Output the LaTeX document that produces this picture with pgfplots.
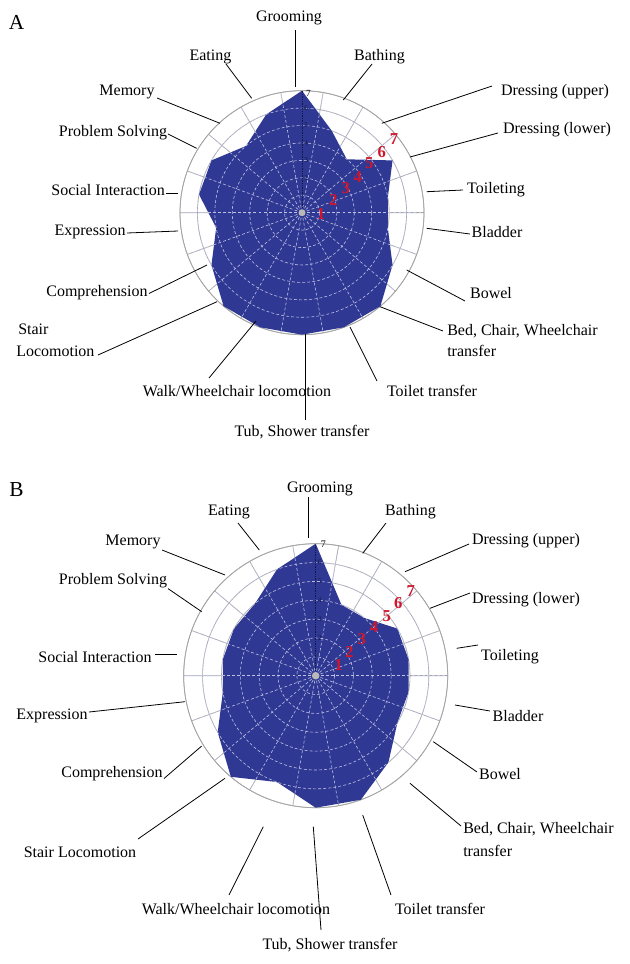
\documentclass[border=0pt]{standalone}
\usepackage{pgfplots}
\usepackage{pgfplotstable}
\pgfplotsset{compat=1.18}
\usepgfplotslibrary{polar}
\usepackage{fontspec}
\setmainfont{Liberation Serif}
\definecolor{fimblue}{RGB}{47,57,148}
\definecolor{fimred}{RGB}{208,22,44}
\definecolor{ringgray}{RGB}{165,165,165}
\definecolor{navyink}{RGB}{18,24,70}
\definecolor{lav}{RGB}{190,192,225}

% FIM item scores, clockwise from Grooming (angle 90)
\pgfplotstableread{
ang val
90 7
70 5
50 4
30 6
10 5
-10 5
-30 6
-50 7
-70 7
-90 7
-110 7
-130 7
-150 6
-170 5
-190 6
-210 6
-230 5
-250 6
-270 7
}\dataA
\pgfplotstableread{
ang val
90 7
70 4
50 4
30 5
10 5
-10 5
-30 5
-50 6
-70 7
-90 7
-110 6
-130 7
-150 6
-170 5
-190 5
-210 5
-230 5
-250 6
-270 7
}\dataB

\pgfplotsset{fimradar/.style={
  anchor=center, scale only axis,
  xmin=0, xmax=360, ymin=0, ymax=7,
  xtick={0,20,...,340}, ytick={1,2,...,7},
  xticklabel=\empty, yticklabel=\empty,
  grid=both,
  major grid style={draw=ringgray, line width=0.5pt},
  axis line style={draw=ringgray, line width=0.6pt},
  tick style={draw=none},
  clip=false,
}}

\tikzset{
  lab/.style={font=\fontsize{12}{14}\selectfont, inner sep=0pt},
  lead/.style={draw=black, line width=0.6pt},
  ovl/.style={draw=lav, line width=0.45pt, dash pattern=on 2.2pt off 1.6pt},
  rednum/.style={text=fimred, font=\fontsize{12.5}{12.5}\selectfont\bfseries, inner sep=0pt},
  sm/.style={text=navyink, font=\fontsize{5.5}{5.5}\selectfont, inner sep=0pt},
}

\begin{document}
\begin{tikzpicture}
% ---------------- Chart A ----------------
\begin{polaraxis}[fimradar, at={(226.5pt,-159.525pt)}, width=183pt, height=183pt,
  xticklabel=\empty, yticklabel=\empty]
\addplot[fill=fimblue, draw=none] table[x=ang, y=val] {\dataA};
\end{polaraxis}
% ---------------- Chart B ----------------
\begin{polaraxis}[fimradar, at={(236.775pt,-506.775pt)}, width=198pt, height=198pt,
  xticklabel=\empty, yticklabel=\empty]
\addplot[fill=fimblue, draw=none] table[x=ang, y=val] {\dataB};
\end{polaraxis}

\begin{scope}[x=0.75pt, y=-0.75pt]
\path[use as bounding box] (0,0) rectangle (629,964);

% overlay grid A
\foreach \k in {1,...,6} \draw[ovl] (302,212.7) circle[radius={\k*17.43}];
\foreach \a in {0,20,...,340} \draw[ovl] (302,212.7) -- ++(\a:121);
\draw[navyink, line width=0.7pt, dash pattern=on 1pt off 0.8pt] (302,212.7) -- (302,91);
\foreach \k in {2,...,6} \node[sm, anchor=west] at (304,{212.7-\k*17.43}) {\k};
\fill[gray!55] (302,212.7) circle[radius=3.5];
\node[font=\fontsize{7}{7}\selectfont, inner sep=0pt] at (308.5,93) {7};

% overlay grid B
\foreach \k in {1,...,6} \draw[ovl] (315.7,675.7) circle[radius={\k*18.857}];
\foreach \a in {0,20,...,340} \draw[ovl] (315.7,675.7) -- ++(\a:131);
\draw[navyink, line width=0.7pt, dash pattern=on 1pt off 0.8pt] (315.7,675.7) -- (315.7,544);
\foreach \k in {2,...,6} \node[sm, anchor=west] at (317.7,{675.7-\k*18.857}) {\k};
\fill[gray!55] (315.7,675.7) circle[radius=3.8];
\node[font=\fontsize{7.5}{7.5}\selectfont, inner sep=0pt] at (323.3,544) {7};

% red scale digits
\foreach \n/\x/\y in {1/321/214,2/333.3/200,3/345.7/188.3,4/357.7/176.7,5/369.3/162.7,6/381.7/151.7,7/394/139}
  \node[rednum] at (\x,\y) {\n};
\foreach \n/\x/\y in {1/338.5/665,2/349.3/651.7,3/361.7/639.3,4/374/626.7,5/386.7/616,6/398.3/602.7,7/410.7/590.7}
  \node[rednum] at (\x,\y) {\n};

% ---------- labels A ----------
\node[font=\fontsize{16}{16}\selectfont, inner sep=0pt] at (16.5,22) {A};
\node[lab] at (289,18) {Grooming};
\node[lab] at (210.5,56.5) {Eating};
\node[lab] at (379.5,56.5) {Bathing};
\node[lab] at (127,92) {Memory};
\node[lab] at (555,92) {Dressing (upper)};
\node[lab] at (113,133) {Problem Solving};
\node[lab] at (557,130) {Dressing (lower)};
\node[lab, anchor=east] at (165,190) {Social Interaction};
\node[lab] at (496,190) {Toileting};
\node[lab, anchor=east] at (126,232) {Expression};
\node[lab] at (497,232) {Bladder};
\node[lab] at (97,293) {Comprehension};
\node[lab] at (491,293) {Bowel};
\node[lab, anchor=west] at (18,329) {Stair};
\node[lab, anchor=west] at (16,351) {Locomotion};
\node[lab, anchor=west] at (447,331) {Bed, Chair, Wheelchair};
\node[lab, anchor=west] at (447,351) {transfer};
\node[lab] at (237,391) {Walk/Wheelchair locomotion};
\node[lab] at (432,391) {Toilet transfer};
\node[lab] at (302,432) {Tub, Shower transfer};

\draw[lead] (295,30) -- (295,87);
\draw[lead] (226,64) -- (251.7,98.3);
\draw[lead] (372,64) -- (343.3,100);
\draw[lead] (157,98) -- (220,123.3);
\draw[lead] (168,134) -- (196.7,148.3);
\draw[lead] (166,193) -- (178,193);
\draw[lead] (127,233) -- (178,231);
\draw[lead] (149,293.5) -- (207,265);
\draw[lead] (98,355) -- (217,301.7);
\draw[lead] (209,378) -- (256,321);
\draw[lead] (305,420) -- (305,334);
\draw[lead] (350,327) -- (377,381);
\draw[lead] (380,306.7) -- (443,331);
\draw[lead] (406.7,270) -- (465,301);
\draw[lead] (426.7,228.3) -- (470,234);
\draw[lead] (426.7,191.7) -- (463,190);
\draw[lead] (410,157) -- (498,133);
\draw[lead] (381.7,123.3) -- (492,86);

% ---------- labels B ----------
\node[font=\fontsize{16}{16}\selectfont, inner sep=0pt] at (16.6,490) {B};
\node[lab] at (320,489) {Grooming};
\node[lab] at (229,512) {Eating};
\node[lab] at (410.5,512) {Bathing};
\node[lab] at (133,542) {Memory};
\node[lab] at (526,541) {Dressing (upper)};
\node[lab] at (113,581) {Problem Solving};
\node[lab] at (526,600) {Dressing (lower)};
\node[lab] at (95,657) {Social Interaction};
\node[lab] at (510,657) {Toileting};
\node[lab] at (52,716) {Expression};
\node[lab] at (518,716) {Bladder};
\node[lab] at (112,774) {Comprehension};
\node[lab] at (500,774) {Bowel};
\node[lab] at (80,852) {Stair Locomotion};
\node[lab, anchor=west] at (463,829) {Bed, Chair, Wheelchair};
\node[lab, anchor=west] at (463,851) {transfer};
\node[lab] at (236,909) {Walk/Wheelchair locomotion};
\node[lab] at (440,909) {Toilet transfer};
\node[lab] at (330,945) {Tub, Shower transfer};

\draw[lead] (308,497) -- (308,538.3);
\draw[lead] (238,523) -- (259.3,550);
\draw[lead] (386,523) -- (362.7,553.3);
\draw[lead] (162,550) -- (225,575);
\draw[lead] (168,588.6) -- (201.7,611.7);
\draw[lead] (469,544) -- (405,571.7);
\draw[lead] (470,593) -- (430,608.3);
\draw[lead] (155,654) -- (177,654);
\draw[lead] (456.7,648.3) -- (478,645);
\draw[lead] (89,712) -- (185,701.7);
\draw[lead] (455,705) -- (490,711);
\draw[lead] (164,778.5) -- (201.7,746);
\draw[lead] (433.3,741.7) -- (477,772);
\draw[lead] (138,839) -- (225,778.3);
\draw[lead] (410,783.3) -- (461,826);
\draw[lead] (229,895) -- (263.3,826.7);
\draw[lead] (362.7,815) -- (391,895);
\draw[lead] (321,930) -- (313.3,826.7);
\end{scope}
\end{tikzpicture}
\end{document}
